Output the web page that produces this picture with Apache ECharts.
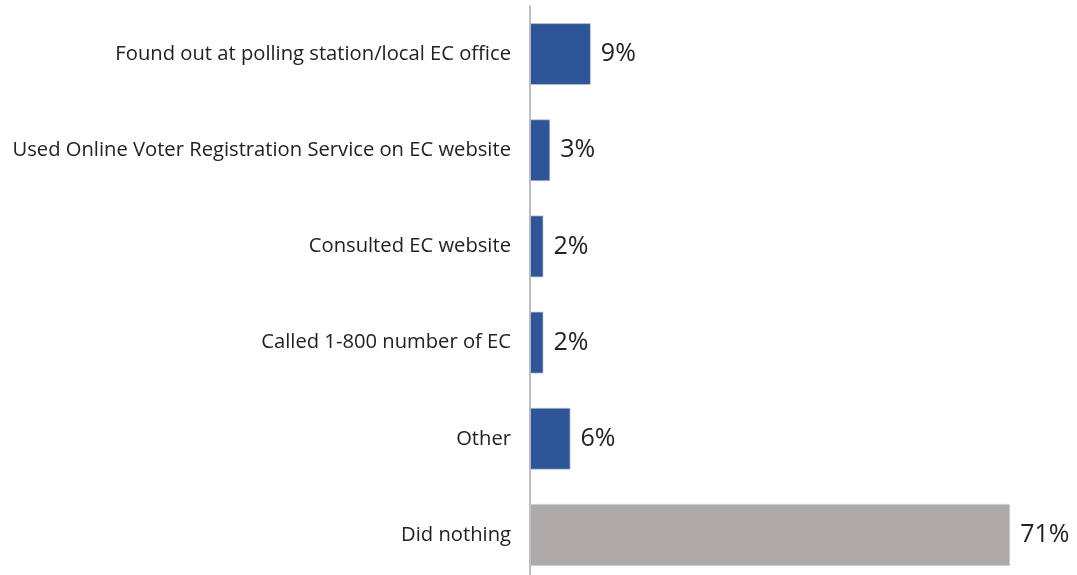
<!DOCTYPE html>
<html>
<head>
<meta charset="utf-8">
<script src="https://cdn.jsdelivr.net/npm/echarts@6/dist/echarts.min.js"></script>
<style>
  html, body { margin: 0; padding: 0; background: #ffffff; }
  #chart { width: 1077px; height: 575px; }
</style>
</head>
<body>
<div id="chart"></div>
<script>
// Actions taken, top to bottom as drawn
const categories = [
  'Found out at polling station/local EC office',
  'Used Online Voter Registration Service on EC website',
  'Consulted EC website',
  'Called 1-800 number of EC',
  'Other',
  'Did nothing'
];
const values = [9, 3, 2, 2, 6, 71];
const barColors = ['#2E5597', '#2E5597', '#2E5597', '#2E5597', '#2E5597', '#ADAAA9'];

const chart = echarts.init(document.getElementById('chart'), null, { renderer: 'canvas' });

chart.setOption({
  animation: false,
  backgroundColor: '#ffffff',
  grid: {
    left: 530, top: 6, right: 6, bottom: -8,
    containLabel: false,
    outerBoundsMode: 'none'
  },
  xAxis: {
    type: 'value',
    min: 0,
    max: 80,
    show: false
  },
  yAxis: {
    type: 'category',
    inverse: true,
    data: categories,
    axisLine: { show: true, lineStyle: { color: '#BFBFBF', width: 2 } },
    axisTick: { show: false },
    axisLabel: {
      margin: 19,
      color: '#222222',
      fontFamily: 'Open Sans',
      fontSize: 20.2
    }
  },
  series: [{
    type: 'bar',
    barCategoryGap: '35.5%',
    data: values.map((v, i) => ({
      value: v,
      itemStyle: { color: barColors[i], borderColor: 'rgba(200,200,210,0.7)', borderWidth: 1 }
    })),
    label: {
      show: true,
      position: 'right',
      distance: 10,
      formatter: p => p.value + '%',
      color: '#222222',
      fontFamily: 'Open Sans',
      fontSize: 25
    }
  }]
});
</script>
</body>
</html>
